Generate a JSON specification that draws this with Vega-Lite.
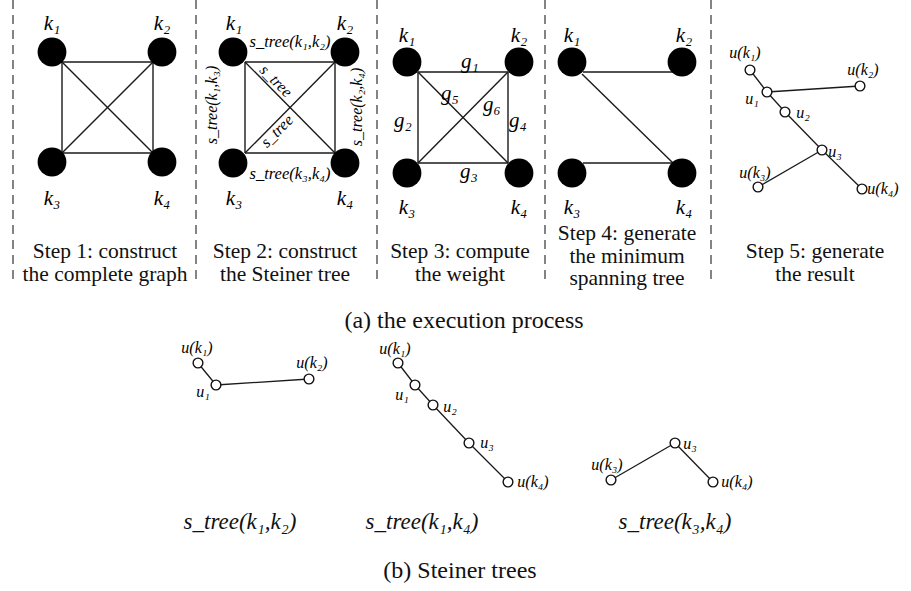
{
  "$schema": "https://vega.github.io/schema/vega-lite/v6.json",
  "width": 911,
  "height": 591,
  "padding": 0,
  "autosize": {"type": "none"},
  "background": "white",
  "config": {"view": {"stroke": null}, "text": {"font": "Liberation Serif, Times New Roman, DejaVu Serif, serif"}},
  "datasets": {
    "dividers": [
      {"x": 13, "y": 0, "y2": 283},
      {"x": 196, "y": 0, "y2": 283},
      {"x": 377, "y": 0, "y2": 283},
      {"x": 545, "y": 0, "y2": 283},
      {"x": 711, "y": 0, "y2": 283}
    ],
    "bigEdges": [
      {"x": 62, "y": 62, "x2": 153, "y2": 62},
      {"x": 62, "y": 153, "x2": 153, "y2": 153},
      {"x": 62, "y": 62, "x2": 62, "y2": 153},
      {"x": 153, "y": 62, "x2": 153, "y2": 153},
      {"x": 62, "y": 62, "x2": 153, "y2": 153},
      {"x": 153, "y": 62, "x2": 62, "y2": 153},
      {"x": 245, "y": 62, "x2": 335, "y2": 62},
      {"x": 245, "y": 153, "x2": 335, "y2": 153},
      {"x": 245, "y": 62, "x2": 245, "y2": 153},
      {"x": 335, "y": 62, "x2": 335, "y2": 153},
      {"x": 245, "y": 62, "x2": 335, "y2": 153},
      {"x": 335, "y": 62, "x2": 245, "y2": 153},
      {"x": 418, "y": 72, "x2": 508, "y2": 72},
      {"x": 418, "y": 163, "x2": 508, "y2": 163},
      {"x": 418, "y": 72, "x2": 418, "y2": 163},
      {"x": 508, "y": 72, "x2": 508, "y2": 163},
      {"x": 418, "y": 72, "x2": 508, "y2": 163},
      {"x": 508, "y": 72, "x2": 418, "y2": 163},
      {"x": 583, "y": 72, "x2": 672, "y2": 72},
      {"x": 583, "y": 163, "x2": 672, "y2": 163},
      {"x": 582, "y": 74, "x2": 673, "y2": 163}
    ],
    "smallEdges": [
      {"x": 750, "y": 70, "x2": 767, "y2": 92},
      {"x": 767, "y": 92, "x2": 785, "y2": 112},
      {"x": 785, "y": 112, "x2": 822, "y2": 150},
      {"x": 822, "y": 150, "x2": 862, "y2": 189},
      {"x": 767, "y": 92, "x2": 860, "y2": 86},
      {"x": 822, "y": 150, "x2": 758, "y2": 187},
      {"x": 198, "y": 363, "x2": 216, "y2": 385},
      {"x": 216, "y": 385, "x2": 309, "y2": 379},
      {"x": 398, "y": 363, "x2": 415, "y2": 385},
      {"x": 415, "y": 385, "x2": 433, "y2": 405},
      {"x": 433, "y": 405, "x2": 469, "y2": 443},
      {"x": 469, "y": 443, "x2": 508, "y2": 482},
      {"x": 611, "y": 480, "x2": 675, "y2": 443},
      {"x": 675, "y": 443, "x2": 713, "y2": 482}
    ],
    "bigNodes": [
      {"x": 52, "y": 52}, {"x": 162, "y": 52}, {"x": 52, "y": 162}, {"x": 162, "y": 162},
      {"x": 233, "y": 52}, {"x": 345, "y": 52}, {"x": 233, "y": 163}, {"x": 345, "y": 163},
      {"x": 407, "y": 62}, {"x": 519, "y": 62}, {"x": 407, "y": 173}, {"x": 519, "y": 173},
      {"x": 572, "y": 62}, {"x": 682, "y": 62}, {"x": 572, "y": 173}, {"x": 682, "y": 173}
    ],
    "smallNodes": [
      {"x": 750, "y": 70}, {"x": 767, "y": 92}, {"x": 785, "y": 112}, {"x": 822, "y": 150},
      {"x": 860, "y": 86}, {"x": 758, "y": 187}, {"x": 862, "y": 189},
      {"x": 198, "y": 363}, {"x": 216, "y": 385}, {"x": 309, "y": 379},
      {"x": 398, "y": 363}, {"x": 415, "y": 385}, {"x": 433, "y": 405}, {"x": 469, "y": 443}, {"x": 508, "y": 482},
      {"x": 611, "y": 480}, {"x": 675, "y": 443}, {"x": 713, "y": 482}
    ],
    "kLabels": [
      {"x": 52, "y": 30, "t": "k₁"}, {"x": 162, "y": 30, "t": "k₂"}, {"x": 52, "y": 205, "t": "k₃"}, {"x": 162, "y": 205, "t": "k₄"},
      {"x": 234, "y": 30, "t": "k₁"}, {"x": 345, "y": 30, "t": "k₂"}, {"x": 234, "y": 205, "t": "k₃"}, {"x": 345, "y": 205, "t": "k₄"},
      {"x": 407, "y": 42, "t": "k₁"}, {"x": 519, "y": 42, "t": "k₂"}, {"x": 407, "y": 214, "t": "k₃"}, {"x": 519, "y": 214, "t": "k₄"},
      {"x": 572, "y": 42, "t": "k₁"}, {"x": 684, "y": 42, "t": "k₂"}, {"x": 572, "y": 214, "t": "k₃"}, {"x": 684, "y": 214, "t": "k₄"}
    ],
    "gLabels": [
      {"x": 470, "y": 62, "t": "g₁"}, {"x": 403, "y": 121, "t": "g₂"}, {"x": 469, "y": 172, "t": "g₃"},
      {"x": 518, "y": 121, "t": "g₄"}, {"x": 450, "y": 94, "t": "g₅"}, {"x": 492, "y": 105, "t": "g₆"}
    ],
    "streeH": [
      {"x": 290, "y": 42, "t": "s_tree(k₁,k₂)"},
      {"x": 290, "y": 174, "t": "s_tree(k₃,k₄)"}
    ],
    "streeV": [
      {"x": 212, "y": 105, "t": "s_tree(k₁,k₃)"},
      {"x": 357, "y": 107, "t": "s_tree(k₂,k₄)"}
    ],
    "streeD1": [{"x": 276, "y": 81, "t": "s_tree"}],
    "streeD2": [{"x": 277, "y": 131, "t": "s_tree"}],
    "uLabels": [
      {"x": 745, "y": 53, "t": "u(k₁)"}, {"x": 863, "y": 70, "t": "u(k₂)"}, {"x": 752, "y": 99, "t": "u₁"},
      {"x": 803, "y": 113, "t": "u₂"}, {"x": 835, "y": 152, "t": "u₃"}, {"x": 755, "y": 173, "t": "u(k₃)"}, {"x": 883, "y": 189, "t": "u(k₄)"},
      {"x": 197, "y": 348, "t": "u(k₁)"}, {"x": 203, "y": 392, "t": "u₁"}, {"x": 312, "y": 363, "t": "u(k₂)"},
      {"x": 395, "y": 349, "t": "u(k₁)"}, {"x": 402, "y": 395, "t": "u₁"}, {"x": 450, "y": 407, "t": "u₂"}, {"x": 487, "y": 443, "t": "u₃"}, {"x": 533, "y": 482, "t": "u(k₄)"},
      {"x": 607, "y": 465, "t": "u(k₃)"}, {"x": 690, "y": 444, "t": "u₃"}, {"x": 737, "y": 482, "t": "u(k₄)"}
    ],
    "steps": [
      {"x": 105, "y": 258, "t": "Step 1: construct\nthe complete graph"},
      {"x": 285, "y": 258, "t": "Step 2: construct\nthe Steiner tree"},
      {"x": 460, "y": 258, "t": "Step 3: compute\nthe weight"},
      {"x": 627, "y": 240, "t": "Step 4: generate\nthe minimum\nspanning tree"},
      {"x": 815, "y": 258, "t": "Step 5: generate\nthe result"}
    ],
    "captions": [
      {"x": 464, "y": 328, "t": "(a) the execution process"},
      {"x": 460, "y": 578, "t": "(b) Steiner trees"}
    ],
    "treeCaptions": [
      {"x": 240, "y": 529, "t": "s_tree(k₁,k₂)"},
      {"x": 422, "y": 529, "t": "s_tree(k₁,k₄)"},
      {"x": 675, "y": 529, "t": "s_tree(k₃,k₄)"}
    ]
  },
  "encoding": {
    "x": {"field": "x", "type": "quantitative", "scale": {"domain": [0, 911], "nice": false, "zero": false}, "axis": null},
    "y": {"field": "y", "type": "quantitative", "scale": {"domain": [0, 591], "nice": false, "zero": false, "reverse": true}, "axis": null}
  },
  "layer": [
    {
      "data": {"name": "dividers"},
      "mark": {"type": "rule", "color": "#333", "strokeWidth": 1.2, "strokeDash": [9, 6]},
      "encoding": {"y2": {"field": "y2"}}
    },
    {
      "data": {"name": "bigEdges"},
      "mark": {"type": "rule", "color": "#1a1a1a", "strokeWidth": 1.4},
      "encoding": {"x2": {"field": "x2"}, "y2": {"field": "y2"}}
    },
    {
      "data": {"name": "smallEdges"},
      "mark": {"type": "rule", "color": "#1a1a1a", "strokeWidth": 1.3},
      "encoding": {"x2": {"field": "x2"}, "y2": {"field": "y2"}}
    },
    {
      "data": {"name": "bigNodes"},
      "mark": {"type": "point", "shape": "circle", "filled": true, "color": "#000", "opacity": 1, "size": 830, "strokeWidth": 0}
    },
    {
      "data": {"name": "smallNodes"},
      "mark": {"type": "point", "shape": "circle", "filled": false, "fill": "white", "fillOpacity": 1, "stroke": "#111", "strokeWidth": 1.4, "opacity": 1, "size": 95}
    },
    {
      "data": {"name": "kLabels"},
      "mark": {"type": "text", "fontStyle": "italic", "fontSize": 21, "align": "center", "baseline": "alphabetic", "color": "#000"},
      "encoding": {"text": {"field": "t"}}
    },
    {
      "data": {"name": "gLabels"},
      "mark": {"type": "text", "fontStyle": "italic", "fontSize": 21, "align": "center", "baseline": "middle", "color": "#000"},
      "encoding": {"text": {"field": "t"}}
    },
    {
      "data": {"name": "streeH"},
      "mark": {"type": "text", "fontStyle": "italic", "fontSize": 16.5, "align": "center", "baseline": "middle", "color": "#000"},
      "encoding": {"text": {"field": "t"}}
    },
    {
      "data": {"name": "streeV"},
      "mark": {"type": "text", "fontStyle": "italic", "fontSize": 16, "align": "center", "baseline": "middle", "angle": 270, "color": "#000"},
      "encoding": {"text": {"field": "t"}}
    },
    {
      "data": {"name": "streeD1"},
      "mark": {"type": "text", "fontStyle": "italic", "fontSize": 16, "align": "center", "baseline": "middle", "angle": 45, "color": "#000"},
      "encoding": {"text": {"field": "t"}}
    },
    {
      "data": {"name": "streeD2"},
      "mark": {"type": "text", "fontStyle": "italic", "fontSize": 16, "align": "center", "baseline": "middle", "angle": 315, "color": "#000"},
      "encoding": {"text": {"field": "t"}}
    },
    {
      "data": {"name": "uLabels"},
      "mark": {"type": "text", "fontStyle": "italic", "fontSize": 16, "align": "center", "baseline": "middle", "color": "#000"},
      "encoding": {"text": {"field": "t"}}
    },
    {
      "data": {"name": "steps"},
      "mark": {"type": "text", "fontSize": 21.5, "align": "center", "baseline": "alphabetic", "lineBreak": "\n", "lineHeight": 22.5, "color": "#111"},
      "encoding": {"text": {"field": "t"}}
    },
    {
      "data": {"name": "captions"},
      "mark": {"type": "text", "fontSize": 24, "align": "center", "baseline": "alphabetic", "color": "#111"},
      "encoding": {"text": {"field": "t"}}
    },
    {
      "data": {"name": "treeCaptions"},
      "mark": {"type": "text", "fontStyle": "italic", "fontSize": 23, "align": "center", "baseline": "alphabetic", "color": "#111"},
      "encoding": {"text": {"field": "t"}}
    }
  ]
}
